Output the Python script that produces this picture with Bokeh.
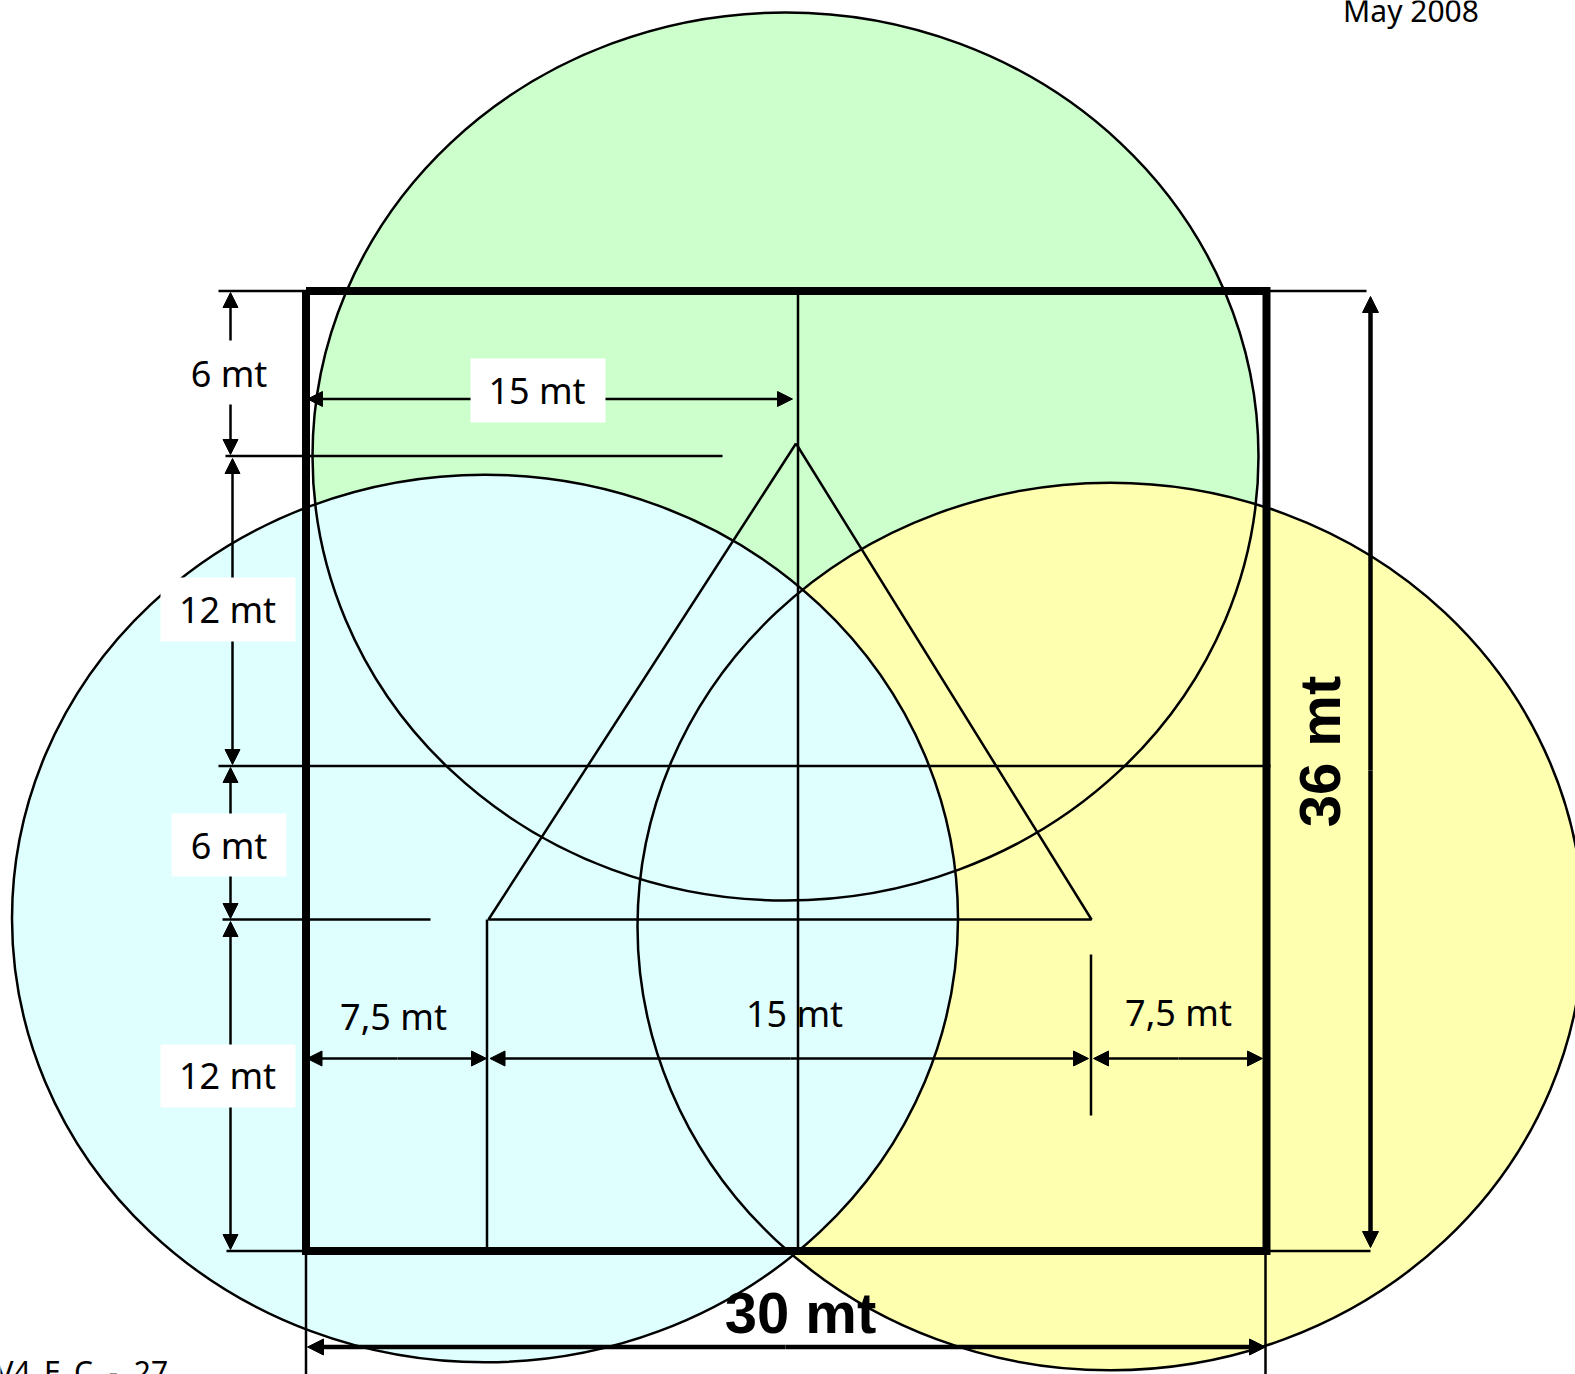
from bokeh.plotting import figure
from bokeh.models import Arrow, NormalHead, Range1d
from bokeh.core.properties import value
from bokeh.embed import file_html
from bokeh.resources import INLINE
import math

# Circles (diagram units)
circle_x = [785, 1110, 484.5]
circle_y = [456, 926, 918]
circle_w = [946, 946, 946]
circle_h = [888, 888, 888]
circle_fill = ["#CCFFCC", "#FFFFB0", "#DFFFFF"]

# Court outline
court_x = [305.5, 1266, 1266, 305.5, 305.5]
court_y = [290.5, 290.5, 1250.5, 1250.5, 290.5]

# Triangle
tri_x = [795.5, 488, 1091, 795.5]
tri_y = [443, 919, 919, 443]

# Thin construction lines
seg_x0 = [797.5, 225, 218, 222, 486.5, 1090.5, 218, 1267, 226, 1266, 305.5, 1265]
seg_y0 = [290.5, 455.5, 765.5, 919, 919, 954, 290.5, 290.5, 1250.5, 1250.5, 1250, 1250]
seg_x1 = [797.5, 722, 1270, 430, 486.5, 1090.5, 306, 1366, 306, 1370, 305.5, 1265]
seg_y1 = [1250, 455.5, 765.5, 919, 1250, 1115, 290.5, 290.5, 1250.5, 1250.5, 1374, 1374]

# Thin arrows: tail to tip
arr_x0 = [230, 230, 232, 232, 230, 230, 230, 230, 470, 605, 397, 397, 790, 790, 1178, 1178]
arr_y0 = [340, 404, 577, 641, 813, 876, 1044, 1107, 398.5, 398.5, 1058, 1058, 1058, 1058, 1058, 1058]
arr_x1 = [230, 230, 232, 232, 230, 230, 230, 230, 307, 792, 306.5, 486, 489.5, 1088, 1093, 1262]
arr_y1 = [292, 454, 458, 764, 767, 918, 921, 1249, 398.5, 398.5, 1058, 1058, 1058, 1058, 1058, 1058]

# Thick arrows: tail to tip
big_x0 = [1370, 1370, 785, 785]
big_y0 = [770, 770, 1346.5, 1346.5]
big_x1 = [1370, 1370, 307, 1265]
big_y1 = [296, 1247, 1346.5, 1346.5]

# White label boxes
box_l = [470, 160, 171, 160]
box_r = [605, 295, 286, 295]
box_t = [358, 577, 813, 1044]
box_b = [422, 641, 876, 1107]

# Labels
lab_text = ["6 mt", "15 mt", "12 mt", "6 mt", "12 mt", "7,5 mt", "15 mt", "7,5 mt"]
lab_x = [228.5, 536.5, 227, 228.5, 227, 393, 794, 1178]
lab_y = [373, 390, 609, 845, 1075, 1016, 1013, 1012]

p = figure(width=1575, height=1374, output_backend="svg", toolbar_location=None,
           x_range=Range1d(0, 1575), y_range=Range1d(1374, 0),
           min_border=0, margin=(0, 0, 0, 0), outline_line_color=None,
           background_fill_color="white", border_fill_color="white")
p.axis.visible = False
p.grid.visible = False

p.ellipse(circle_x, circle_y, width=circle_w, height=circle_h,
          fill_color=circle_fill, line_color=None)
p.ellipse(circle_x, circle_y, width=circle_w, height=circle_h,
          fill_color=None, line_color="black", line_width=2.5)
p.quad(left=box_l, right=box_r, top=box_t, bottom=box_b, fill_color="white", line_color=None)
p.segment(seg_x0, seg_y0, seg_x1, seg_y1, line_color="black", line_width=2.5)
p.line(tri_x, tri_y, line_color="black", line_width=2.5)
p.line(court_x, court_y, line_color="black", line_width=8, line_join="miter")

for a, b, c, d in zip(arr_x0, arr_y0, arr_x1, arr_y1):
    p.add_layout(Arrow(end=NormalHead(size=15, fill_color="black", line_color="black", line_width=1),
                       x_start=a, y_start=b, x_end=c, y_end=d, line_color="black", line_width=2.5))
for a, b, c, d in zip(big_x0, big_y0, big_x1, big_y1):
    p.add_layout(Arrow(end=NormalHead(size=16, fill_color="black", line_color="black", line_width=1),
                       x_start=a, y_start=b, x_end=c, y_end=d, line_color="black", line_width=4.5))

p.text(lab_x, lab_y, text=lab_text, text_font=value("Noto Sans"), text_font_size="36px",
       text_align="center", text_baseline="middle", text_color="black")
p.text([1410.5], [10], text=["May 2008"], text_font=value("Noto Sans"), text_font_size="30px",
       text_align="center", text_baseline="alphabetic", text_color="black")
p.text([-5], [1370.5], text=["V4_E_C\u00a0\u00a0-\u00a0\u00a027"], text_font=value("Noto Sans"), text_font_size="30px",
       text_align="left", text_baseline="alphabetic", text_color="black")
p.text([800], [1312], text=["30 mt"], text_font=value("Liberation Sans"), text_font_size="58px",
       text_font_style="bold", text_align="center", text_baseline="middle", text_color="black")
p.text([1319], [751], text=["36 mt"], angle=[math.pi / 2], text_font=value("Liberation Sans"),
       text_font_size="58px", text_font_style="bold", text_align="center",
       text_baseline="middle", text_color="black")

open("out.html", "w").write(file_html(p, INLINE))
